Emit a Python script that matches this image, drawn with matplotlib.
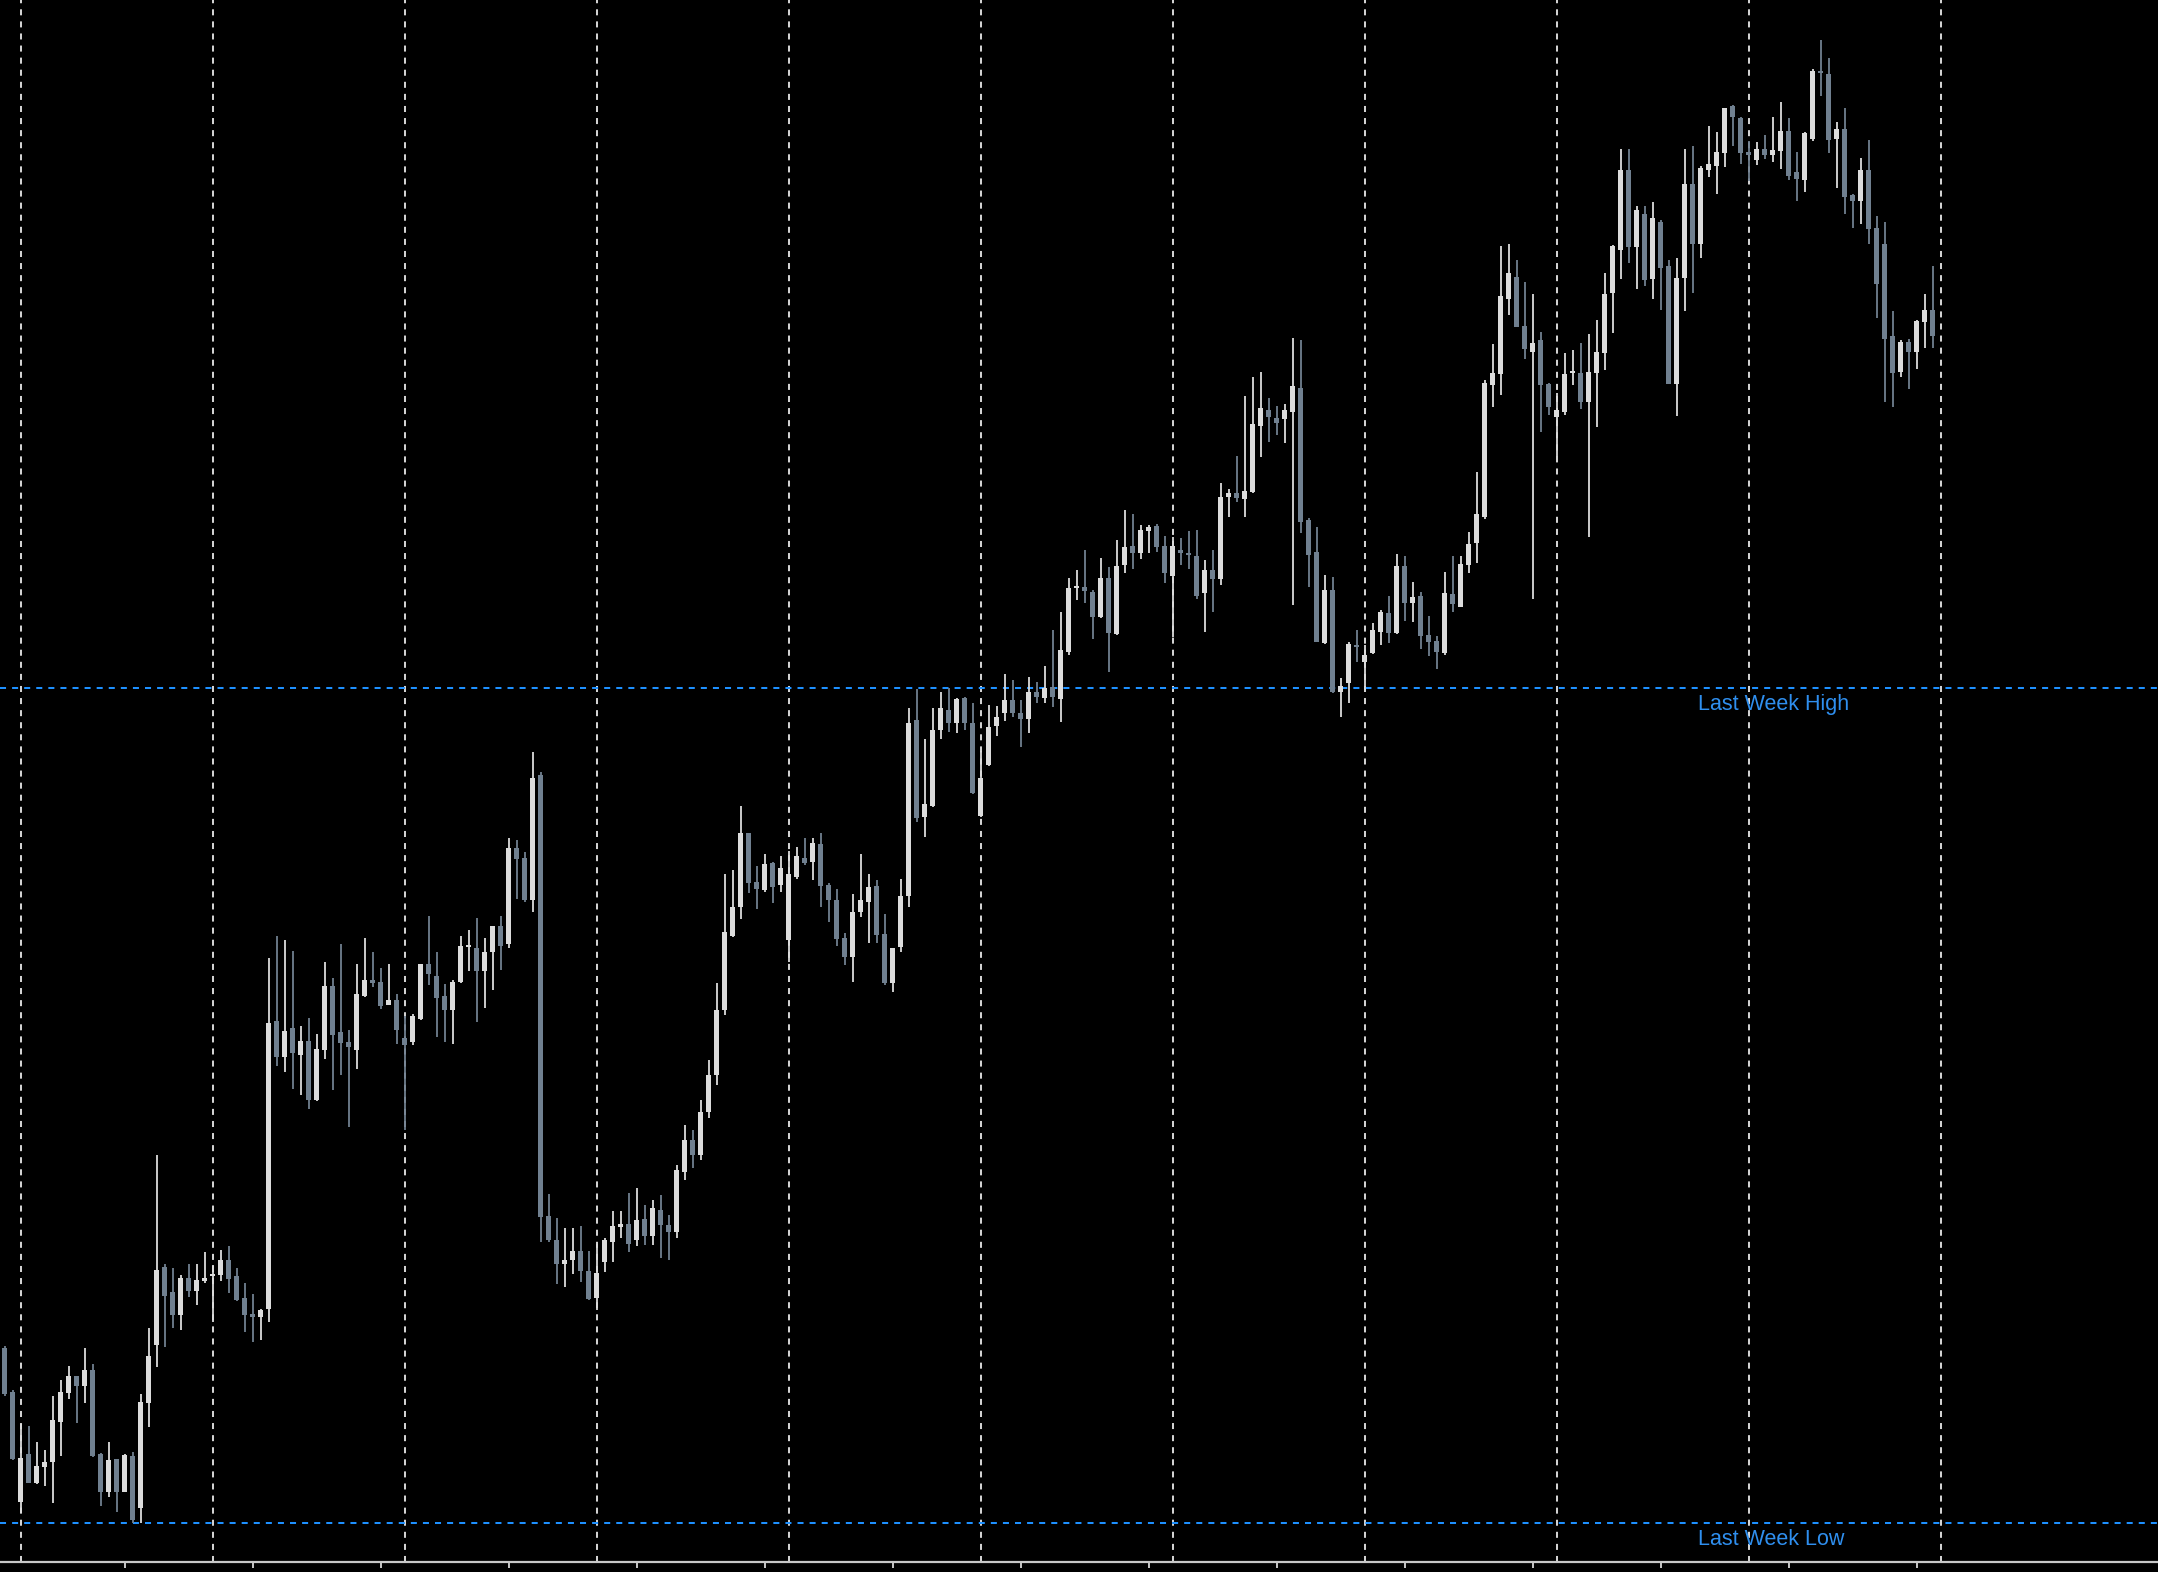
import numpy as np
import matplotlib
matplotlib.use("Agg")
import matplotlib.pyplot as plt

# hourly bars, price in points above base
opens = [
    214, 170, 60, 108, 79, 95, 100, 140, 169, 186, 176, 192, 108, 70, 103, 70, 106, 54, 159, 217,
    295, 270, 247, 284, 271, 281, 286, 287, 302, 286, 264, 248, 245, 253, 541, 505, 534, 507, 521, 462,
    512, 576, 530, 520, 512, 566, 582, 580, 557, 562, 524, 520, 543, 598, 586, 566, 552, 580, 615, 614,
    591, 610, 636, 618, 714, 704, 662, 787, 346, 322, 298, 302, 311, 291, 264, 300, 320, 335, 338, 322,
    343, 326, 352, 337, 330, 390, 422, 407, 450, 487, 552, 626, 655, 729, 680, 672, 699, 677, 622, 685,
    704, 700, 718, 677, 662, 624, 605, 650, 660, 676, 628, 579, 615, 666, 842, 745, 756, 832, 852, 839,
    864, 839, 746, 797, 836, 849, 862, 849, 843, 870, 864, 875, 863, 910, 974, 975, 970, 945, 984, 928,
    997, 1016, 1009, 1031, 1036, 1016, 986, 1012, 1008, 1006, 969, 992, 983, 1065, 1069, 1063, 1070, 1136, 1152, 1144,
    1143, 1150, 1174, 1042, 1010, 919, 972, 870, 879, 916, 900, 909, 930, 949, 929, 996, 959, 966, 927, 921,
    909, 968, 955, 997, 1019, 1045, 1177, 1188, 1263, 1285, 1236, 1210, 1222, 1178, 1145, 1150, 1189, 1189, 1160, 1189,
    1209, 1269, 1312, 1392, 1315, 1348, 1283, 1340, 1296, 1178, 1284, 1378, 1318, 1392, 1396, 1409, 1456, 1444, 1410, 1402,
    1413, 1407, 1411, 1431, 1390, 1382, 1423, 1491, 1488, 1423, 1433, 1367, 1361, 1392, 1334, 1318, 1226, 1190, 1220, 1210,
    1240, 1252,
]
highs = [
    216, 172, 138, 136, 120, 112, 166, 182, 196, 186, 214, 198, 109, 120, 103, 108, 110, 168, 234, 407,
    298, 294, 287, 298, 298, 310, 297, 312, 316, 294, 279, 268, 253, 604, 626, 622, 611, 536, 544, 528,
    600, 584, 618, 532, 598, 624, 610, 594, 598, 568, 546, 548, 598, 646, 610, 578, 582, 626, 632, 644,
    624, 636, 646, 724, 722, 710, 810, 790, 368, 344, 334, 334, 336, 311, 318, 324, 351, 351, 369, 374,
    357, 362, 367, 347, 397, 437, 432, 462, 502, 579, 688, 692, 756, 729, 696, 708, 700, 706, 711, 715,
    724, 724, 729, 679, 673, 629, 668, 708, 688, 682, 648, 614, 683, 854, 873, 823, 854, 870, 874, 864,
    865, 859, 811, 857, 856, 888, 882, 862, 885, 880, 896, 932, 950, 984, 992, 1012, 972, 1004, 995, 1022,
    1052, 1048, 1037, 1037, 1038, 1026, 1025, 1024, 1031, 1032, 1002, 1012, 1079, 1073, 1106, 1166, 1185, 1190, 1164, 1156,
    1158, 1224, 1222, 1044, 1035, 987, 985, 884, 920, 932, 917, 939, 952, 966, 1008, 1006, 980, 970, 946, 926,
    990, 1006, 1006, 1030, 1090, 1182, 1218, 1316, 1318, 1302, 1280, 1268, 1230, 1179, 1169, 1209, 1212, 1219, 1228, 1242,
    1289, 1317, 1413, 1413, 1356, 1356, 1360, 1342, 1302, 1304, 1413, 1416, 1396, 1436, 1430, 1454, 1457, 1445, 1421, 1420,
    1427, 1445, 1460, 1444, 1410, 1430, 1493, 1522, 1504, 1440, 1454, 1368, 1404, 1422, 1346, 1340, 1251, 1222, 1223, 1242,
    1268, 1296,
]
lows = [
    166, 102, 49, 79, 78, 76, 59, 106, 163, 139, 159, 105, 56, 65, 50, 70, 39, 39, 135, 195,
    215, 234, 232, 265, 257, 279, 240, 281, 269, 261, 230, 220, 222, 240, 496, 490, 473, 467, 453, 461,
    503, 472, 487, 435, 493, 565, 575, 553, 557, 518, 432, 517, 542, 577, 525, 520, 518, 579, 591, 540,
    554, 572, 592, 614, 663, 660, 650, 320, 320, 278, 275, 288, 280, 262, 252, 290, 300, 324, 310, 316,
    317, 317, 304, 302, 324, 382, 394, 402, 444, 477, 547, 625, 643, 669, 653, 670, 659, 670, 600, 683,
    697, 682, 655, 640, 616, 597, 580, 645, 619, 619, 577, 570, 610, 655, 740, 725, 755, 823, 830, 829,
    832, 768, 745, 796, 826, 841, 845, 815, 829, 859, 859, 855, 840, 907, 962, 959, 923, 944, 890, 927,
    989, 993, 1003, 1009, 1010, 979, 925, 997, 993, 963, 930, 950, 977, 1045, 1060, 1045, 1069, 1105, 1120, 1127,
    1119, 957, 1029, 975, 920, 918, 869, 845, 859, 900, 872, 908, 917, 919, 928, 941, 940, 913, 906, 893,
    907, 950, 955, 989, 999, 1043, 1155, 1167, 1247, 1235, 1203, 963, 1130, 1147, 1105, 1147, 1177, 1153, 1025, 1135,
    1192, 1229, 1283, 1299, 1273, 1276, 1263, 1252, 1178, 1146, 1251, 1269, 1304, 1385, 1368, 1395, 1416, 1398, 1381, 1397,
    1403, 1400, 1393, 1382, 1361, 1370, 1421, 1466, 1409, 1374, 1348, 1334, 1338, 1318, 1244, 1160, 1155, 1185, 1173, 1193,
    1214, 1214,
]
closes = [
    168, 103, 104, 79, 96, 100, 142, 170, 186, 176, 192, 106, 70, 102, 70, 107, 42, 160, 206, 292,
    266, 247, 284, 271, 282, 284, 288, 302, 283, 262, 247, 245, 252, 539, 505, 531, 509, 521, 462, 513,
    576, 527, 519, 515, 568, 582, 579, 556, 562, 532, 517, 546, 598, 588, 564, 552, 580, 616, 616, 591,
    610, 636, 616, 714, 703, 662, 784, 345, 322, 298, 302, 311, 291, 263, 289, 322, 336, 338, 318, 342,
    326, 354, 337, 330, 392, 422, 407, 450, 487, 552, 630, 655, 729, 679, 673, 698, 675, 694, 688, 706,
    699, 719, 676, 662, 623, 605, 650, 662, 675, 627, 579, 614, 666, 839, 744, 758, 832, 854, 839, 863,
    839, 769, 784, 835, 845, 862, 849, 843, 870, 865, 874, 865, 912, 974, 975, 971, 945, 984, 929, 996,
    1015, 1009, 1032, 1035, 1015, 989, 1016, 1009, 1007, 966, 992, 983, 1065, 1069, 1064, 1071, 1138, 1154, 1145, 1139,
    1152, 1176, 1040, 1007, 920, 972, 870, 876, 918, 915, 907, 932, 950, 929, 996, 959, 965, 926, 920, 910,
    969, 958, 998, 1018, 1048, 1179, 1189, 1266, 1289, 1235, 1213, 1219, 1177, 1155, 1152, 1188, 1189, 1160, 1190, 1210,
    1268, 1316, 1392, 1315, 1352, 1282, 1344, 1294, 1178, 1284, 1378, 1318, 1394, 1398, 1410, 1454, 1445, 1409, 1407, 1413,
    1407, 1412, 1431, 1386, 1383, 1429, 1491, 1489, 1422, 1433, 1365, 1361, 1392, 1333, 1278, 1223, 1189, 1220, 1210, 1241,
    1252, 1226,
]

last_week_high = 874
last_week_low = 39
levels = [(last_week_high, "Last Week High"), (last_week_low, "Last Week Low")]

bull_col = "#dcdcdc"
bear_col = "#708090"
grid_col = "#d2d2d2"
line_col = "#1e90ff"

o = np.array(opens, dtype=float)
h = np.array(highs, dtype=float)
l = np.array(lows, dtype=float)
c = np.array(closes, dtype=float)
x = np.arange(len(o))
up = c >= o
cols = np.where(up, bull_col, bear_col)

fig = plt.figure(figsize=(21.58, 15.72), dpi=100, facecolor="black")
ax = fig.add_axes([0, 10 / 1572, 1, 1562 / 1572])
ax.set_facecolor("black")

# day separators (dashed grid)
for gx in range(2, len(o) + 1, 24):
    ax.axvline(gx, color=grid_col, lw=1.45, dashes=(3, 3), zorder=1)

for lev, name in levels:
    ax.axhline(lev, color=line_col, lw=1.45, dashes=(3, 3), zorder=1)
    ax.annotate(name, xy=(211.6, lev), xytext=(0, -15.5), textcoords="offset points",
                color="#2f8fef", fontsize=15.5, family=["Liberation Sans", "DejaVu Sans"],
                ha="left", va="baseline", zorder=5)

ax.vlines(x, l, h, colors=cols, lw=1.3, zorder=3)
body = np.maximum(np.abs(c - o), 1.8)
ax.bar(x, body, bottom=np.minimum(o, c), width=0.66, color=cols, linewidth=0, zorder=4)

ax.set_xlim(-0.5875, 269.16)
ax.set_ylim(0, 1562)

for s in ["top", "left", "right"]:
    ax.spines[s].set_visible(False)
ax.spines["bottom"].set_color("#c8c8c8")
ax.spines["bottom"].set_linewidth(1.6)
ax.set_yticks([])
ax.set_xticks(np.arange(15, len(o), 16))
ax.set_xticklabels([])
ax.tick_params(axis="x", direction="out", length=4.5, width=1.4, color="#c8c8c8")

fig.savefig("out.png", dpi=100, facecolor="black")
